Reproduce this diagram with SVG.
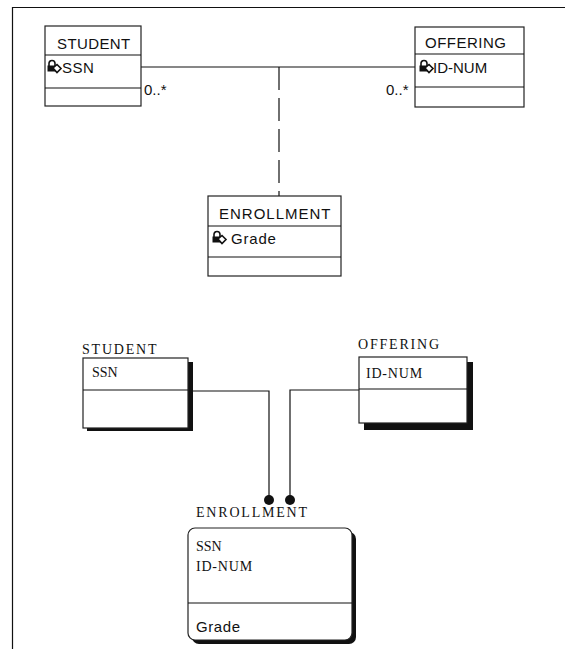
<svg xmlns="http://www.w3.org/2000/svg" width="565" height="649" viewBox="0 0 565 649">
<defs>
<style>
.box{fill:#fff;stroke:#222;stroke-width:1.2}
.ln{fill:none;stroke:#111;stroke-width:1.2}
.sans{font-family:"Liberation Sans",Arial,sans-serif;font-size:15px;fill:#111}
.serif{font-family:"Liberation Serif","Times New Roman",serif;font-size:14px;fill:#111}
.lbl{letter-spacing:1.8px}
.shadow{fill:#111}
</style>
<g id="keyicon">
<path d="M3,5 v-2.5 a3,3 0 0 1 6,0 v2.5" fill="none" stroke="#111" stroke-width="1.6"/>
<rect x="1.5" y="4.5" width="9" height="6" fill="#111"/>
<path d="M7,7 l4,-3.5 l4,4 l-4,4 z" fill="#fff" stroke="#111" stroke-width="1.6"/>
</g>
</defs>
<rect width="565" height="649" fill="#fff"/>
<path d="M12.5,649 V7.5 H565" class="ln" stroke-width="1.6"/>

<g id="connectors">
<line x1="141" y1="67" x2="415" y2="67" class="ln"/>
<line x1="279" y1="67" x2="279" y2="196" class="ln" stroke-width="1.6" stroke-dasharray="23 8"/>
<path d="M188,391 H269 V500" class="ln"/>
<path d="M359,390 H290 V500" class="ln"/>
<circle cx="269" cy="500" r="5" fill="#111"/>
<circle cx="290" cy="500" r="5" fill="#111"/>
<text x="144" y="95" class="sans" font-size="13">0..*</text>
<text x="386" y="95" class="sans" font-size="13">0..*</text>
</g>

<g id="student-top">
<rect x="45" y="26" width="96" height="80" class="box"/>
<line x1="45" y1="55" x2="141" y2="55" class="ln"/>
<line x1="45" y1="88" x2="141" y2="88" class="ln"/>
<text x="57" y="49" class="sans" letter-spacing="0.4">STUDENT</text>
<use href="#keyicon" x="46" y="61"/>
<text x="62" y="73" class="sans" letter-spacing="0.5">SSN</text>
</g>

<g id="offering-top">
<rect x="415" y="27" width="109" height="80" class="box"/>
<line x1="415" y1="54" x2="524" y2="54" class="ln"/>
<line x1="415" y1="87" x2="524" y2="87" class="ln"/>
<text x="425" y="48" class="sans" letter-spacing="0.5">OFFERING</text>
<use href="#keyicon" x="418" y="61"/>
<text x="433" y="73" class="sans">ID-NUM</text>
</g>

<g id="enrollment-top">
<rect x="208" y="196" width="133" height="80" class="box"/>
<line x1="208" y1="226" x2="341" y2="226" class="ln"/>
<line x1="208" y1="257" x2="341" y2="257" class="ln"/>
<text x="219" y="219" class="sans" letter-spacing="1">ENROLLMENT</text>
<use href="#keyicon" x="211" y="232"/>
<text x="231" y="244" class="sans" letter-spacing="0.8">Grade</text>
</g>

<g id="student-bottom">
<rect x="87" y="362" width="106" height="69" class="shadow"/>
<rect x="83" y="358" width="105" height="70" class="box"/>
<line x1="83" y1="390" x2="188" y2="390" class="ln"/>
<text x="82" y="354" class="serif lbl">STUDENT</text>
<text x="92" y="377" class="serif">SSN</text>
</g>

<g id="offering-bottom">
<rect x="364" y="362" width="109" height="68" class="shadow"/>
<rect x="359" y="357" width="108" height="66" class="box"/>
<line x1="359" y1="389" x2="467" y2="389" class="ln"/>
<text x="358" y="349" class="serif lbl">OFFERING</text>
<text x="366" y="378" class="serif" letter-spacing="0.8">ID-NUM</text>
</g>

<g id="enrollment-bottom">
<rect x="192" y="532" width="164" height="112" rx="7" class="shadow"/>
<rect x="188" y="528" width="164" height="112" rx="7" class="box"/>
<line x1="188" y1="603" x2="352" y2="603" class="ln"/>
<text x="196" y="517" class="serif lbl">ENROLLMENT</text>
<text x="196" y="551" class="serif">SSN</text>
<text x="196" y="571" class="serif" letter-spacing="0.8">ID-NUM</text>
<text x="196" y="632" class="sans" font-size="14" letter-spacing="0.6">Grade</text>
</g>
</svg>
